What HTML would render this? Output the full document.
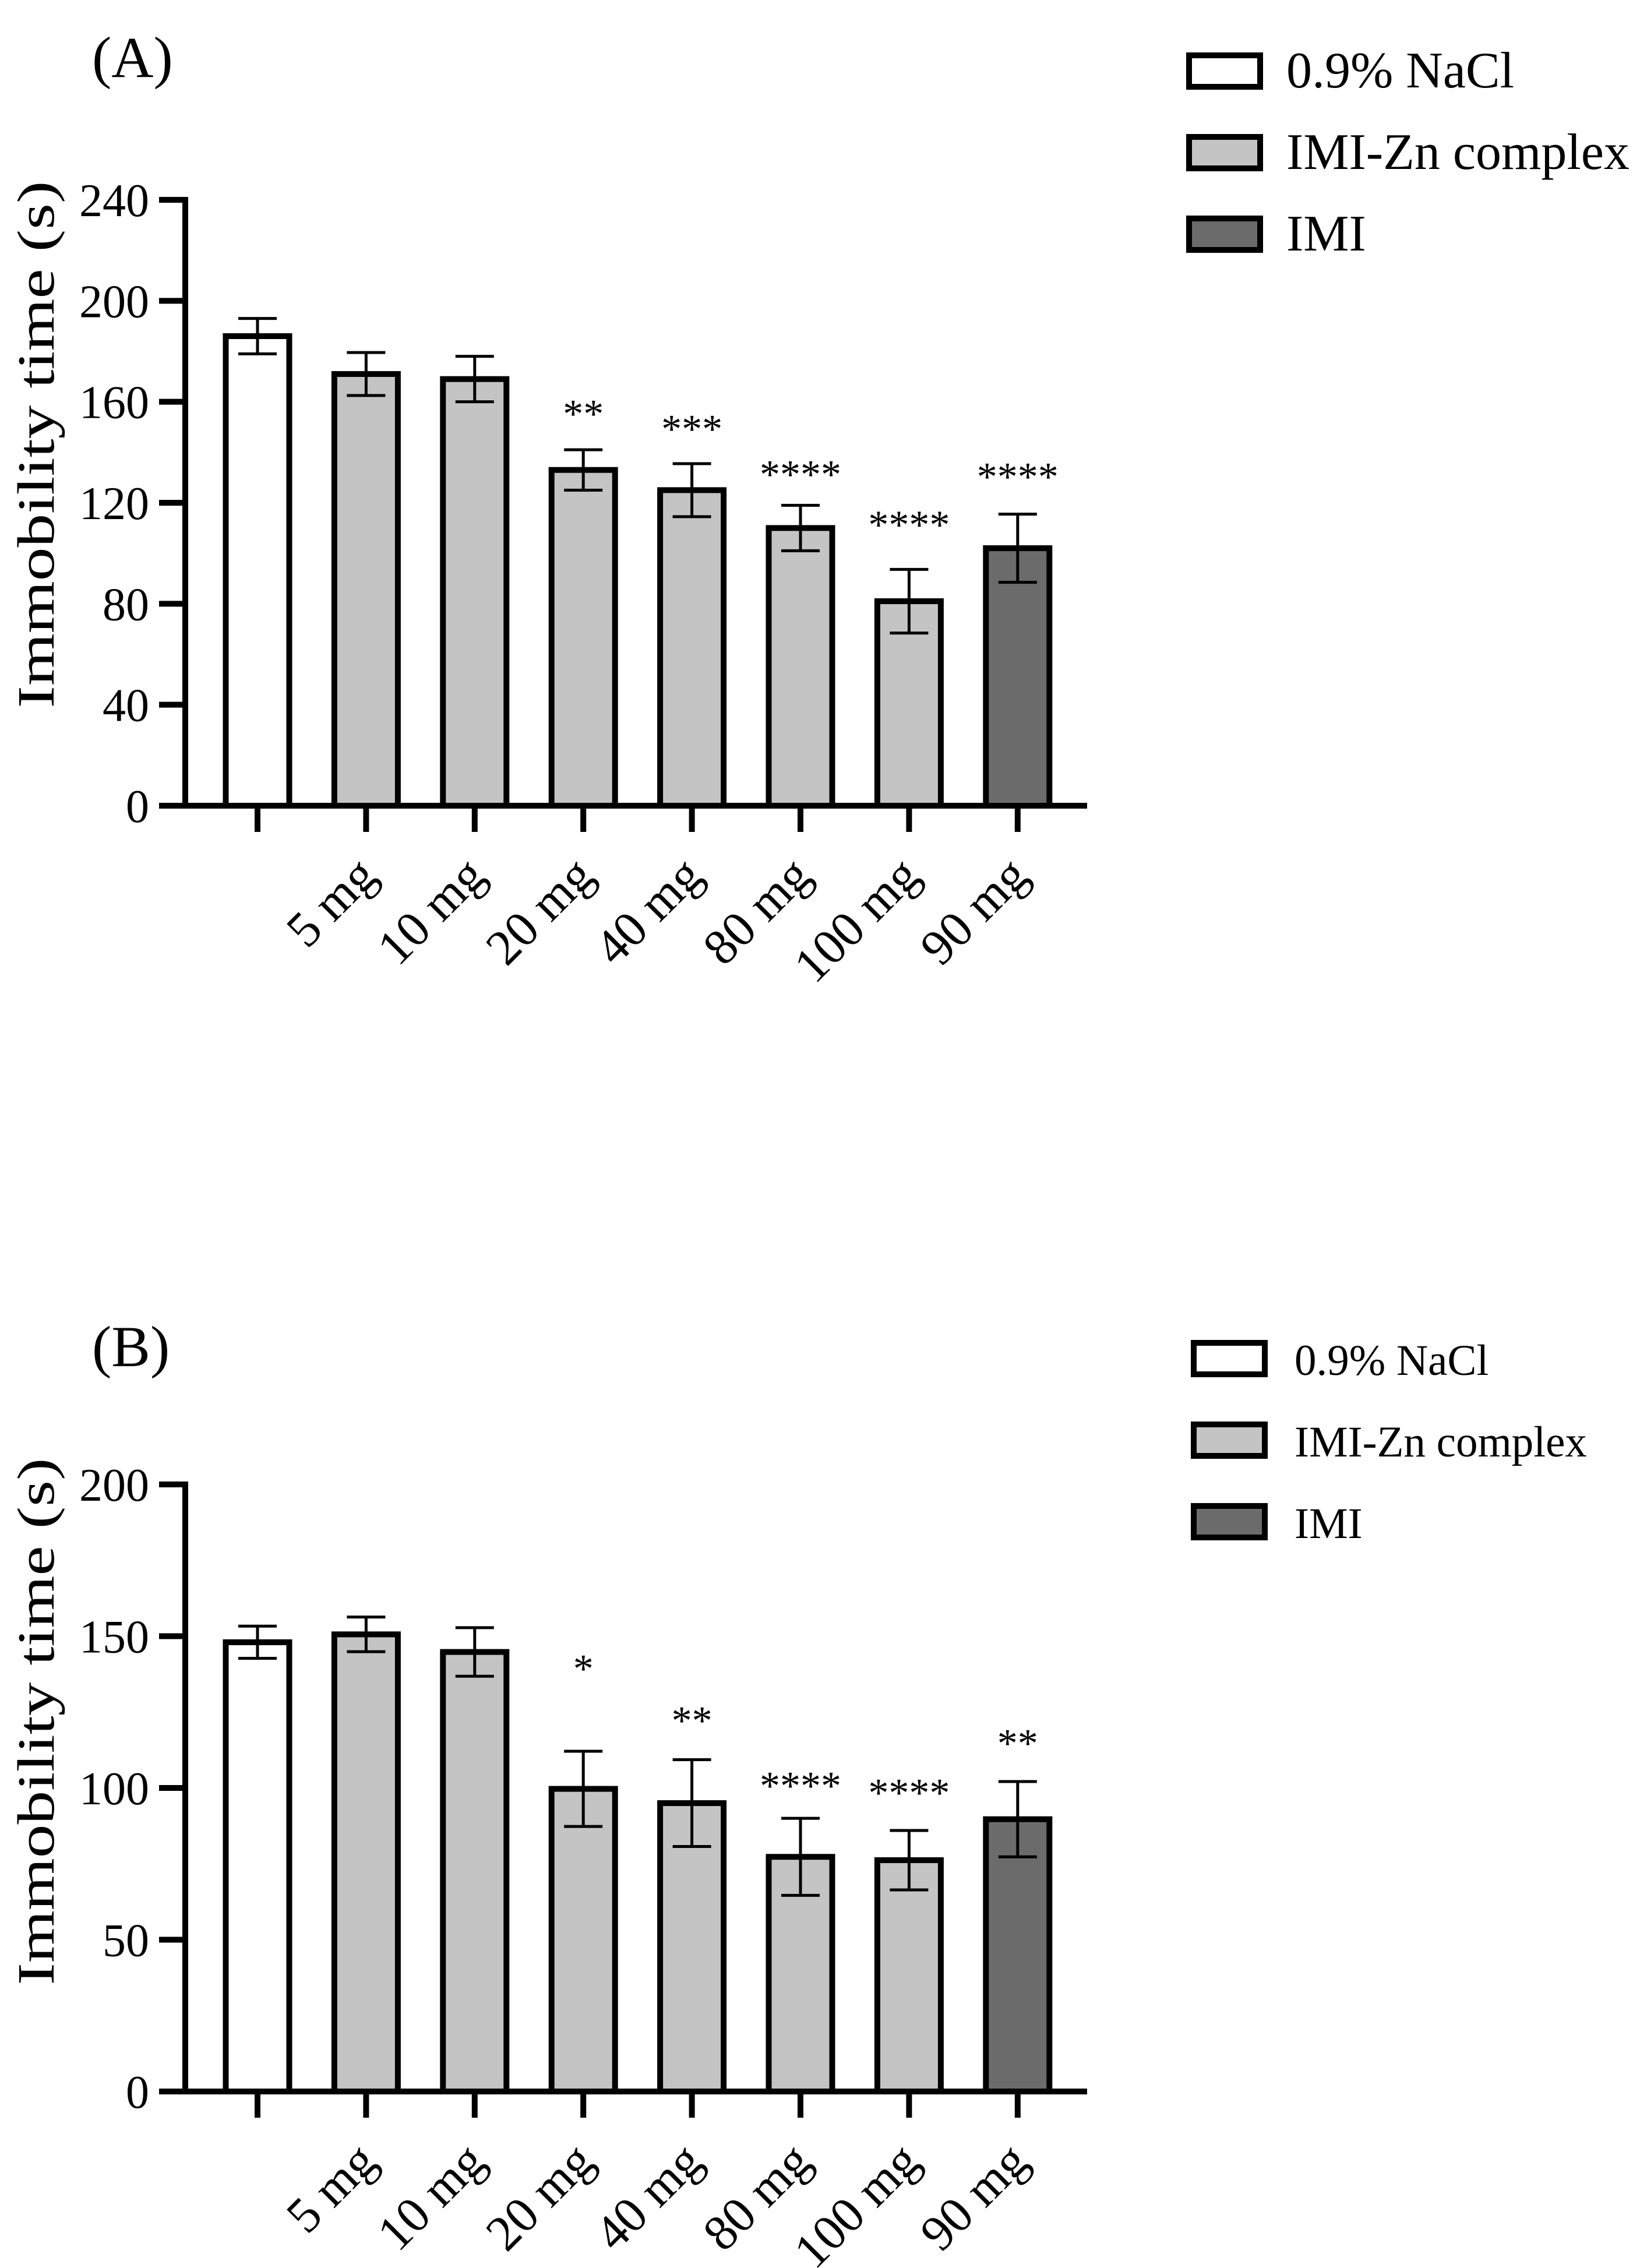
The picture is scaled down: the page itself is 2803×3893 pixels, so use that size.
<!DOCTYPE html>
<html><head><meta charset="utf-8">
<style>html,body{margin:0;padding:0;background:#fff}svg{display:block}text{font-family:"Liberation Serif",serif;fill:#000}</style>
</head><body>
<svg id="chart" width="2803" height="3893" viewBox="0 0 2803 3893" xmlns="http://www.w3.org/2000/svg"></svg>
<script>
const categories = ["", "5 mg", "10 mg", "20 mg", "40 mg", "80 mg", "100 mg", "90 mg"];
const groups = ["nacl", "complex", "complex", "complex", "complex", "complex", "complex", "imi"];
const meansA = [186, 171, 169, 133, 125, 110, 81, 102];
const sdA = [7, 8.5, 9, 8, 10.5, 9, 12.6, 13.5];
const starsA = ["", "", "", "**", "***", "****", "****", "****"];
const starLevelA = [0, 0, 0, 158, 152, 134, 114, 133];
const ticksA = [0, 40, 80, 120, 160, 200, 240];
const meansB = [148, 150.6, 144.8, 99.7, 95, 77.3, 76.2, 89.7];
const sdB = [5.3, 5.7, 8, 12.4, 14.3, 12.7, 9.8, 12.4];
const starsB = ["", "", "", "*", "**", "****", "****", "**"];
const starLevelB = [0, 0, 0, 141.6, 124.5, 103, 100.7, 117];
const ticksB = [0, 50, 100, 150, 200];
const legendLabels = ["0.9% NaCl", "IMI-Zn complex", "IMI"];
const legendGroups = ["nacl", "complex", "imi"];

const NS = "http://www.w3.org/2000/svg";
const svg = document.getElementById("chart");
const fills = {nacl: "#ffffff", complex: "#c4c4c4", imi: "#6b6b6b"};
function mk(tag, attrs, parent) {
  const e = document.createElementNS(NS, tag);
  for (const k in attrs) e.setAttribute(k, attrs[k]);
  (parent || svg).appendChild(e);
  return e;
}

function panel(p) {
  const g = mk("g", {});
  
  
  const axX = 318, x0 = 442, step = 186.4, yMax = p.ticks[p.ticks.length - 1];
  const y = v => p.base - v * (p.base - p.top) / yMax;
  const x = i => x0 + i * step;

  const lab = mk("text", {x: 158, y: p.labelY, "font-size": 100}, g);
  lab.textContent = p.label;
  
  

  const yt = mk("text", {transform: `translate(92,${p.titleY}) rotate(-90)`, "text-anchor": "middle", "font-size": 90, textLength: 905, lengthAdjust: "spacingAndGlyphs"}, g);
  yt.textContent = "Immobility time (s)";
  
  

  categories.forEach((c, i) => {
    const m = p.means[i], s = p.sd[i];
    const r = mk("rect", {x: x(i) - 54.5, y: y(m), width: 109, height: p.base - y(m), fill: fills[groups[i]], stroke: "#000", "stroke-width": 10}, g);
    
    
    const eb = mk("path", {d: `M${x(i)},${y(m + s)}V${y(m - s)}M${x(i) - 33},${y(m + s)}h66M${x(i) - 33},${y(m - s)}h66`, stroke: "#000", "stroke-width": 5, fill: "none"}, g);
    
    
    if (p.stars[i]) {
      const st = mk("text", {x: x(i), y: y(p.starLevel[i]) + 35, "text-anchor": "middle", "font-size": 70}, g);
      st.textContent = p.stars[i];
      
      
    }
    const tk = mk("line", {x1: x(i), x2: x(i), y1: p.base, y2: p.base + 45, stroke: "#000", "stroke-width": 10}, g);
    
    
    if (c) {
      const tl = mk("text", {transform: `translate(${x(i) + 22},${p.base + 124}) rotate(-45)`, "text-anchor": "end", "font-size": 86}, g);
      tl.textContent = c;
      
      
    }
  });

  const ya = mk("line", {x1: axX, x2: axX, y1: p.top - 5, y2: p.base + 5, stroke: "#000", "stroke-width": 10}, g);
  
  
  const xa = mk("line", {x1: axX - 45, x2: 1866, y1: p.base, y2: p.base, stroke: "#000", "stroke-width": 10}, g);
  
  
  p.ticks.forEach(t => {
    const l = mk("line", {x1: axX - 45, x2: axX, y1: y(t), y2: y(t), stroke: "#000", "stroke-width": 10}, g);
    
    
    const tx = mk("text", {x: 256, y: y(t) + 28, "text-anchor": "end", "font-size": 80}, g);
    tx.textContent = t;
    
    
  });

  legendLabels.forEach((t, k) => {
    const ty = p.legTop + k * 140;
    const b = mk("rect", {x: p.legX + 5, y: ty + 5, width: 122, height: 54, fill: fills[legendGroups[k]], stroke: "#000", "stroke-width": 10}, g);
    
    
    const lt = mk("text", {x: p.legTextX, y: ty + 60, "font-size": p.legFont}, g);
    lt.textContent = t;
    
    
  });
}

panel({id: "a", label: "(A)", labelY: 132, top: 343, base: 1383, titleY: 763, ticks: ticksA, means: meansA, sd: sdA, stars: starsA, starLevel: starLevelA, legX: 2036, legTextX: 2208, legTop: 90, legFont: 88});
panel({id: "b", label: "(B)", labelY: 2345, top: 2548, base: 3590, titleY: 2955, ticks: ticksB, means: meansB, sd: sdB, stars: starsB, starLevel: starLevelB, legX: 2044, legTextX: 2222, legTop: 2300, legFont: 75});
</script>
</body></html>
